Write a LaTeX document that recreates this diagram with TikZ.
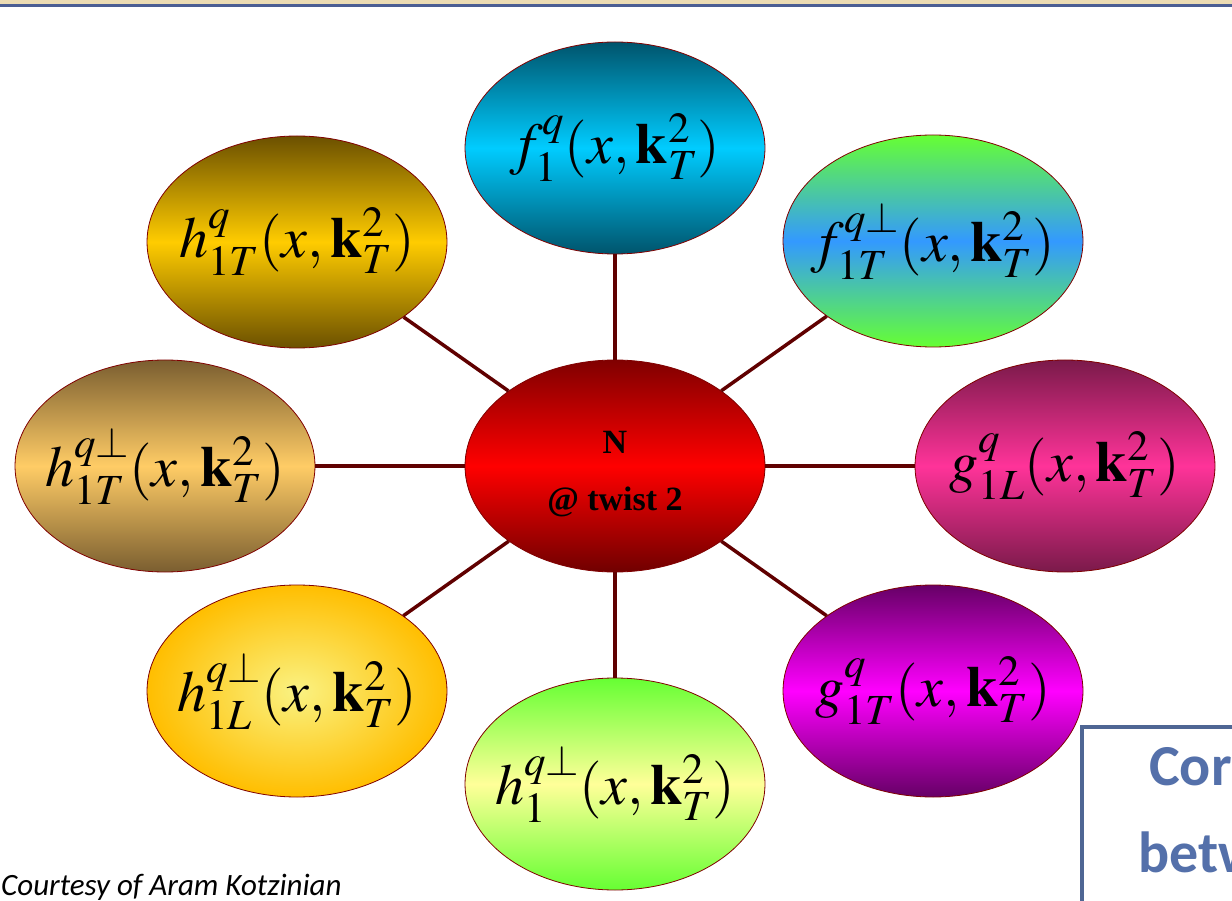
\documentclass[tikz,border=0pt]{standalone}
\usepackage{mathptmx}
\usepackage[no-math]{fontspec}
\newfontfamily\calibri{Carlito}
\newfontfamily\timesf{Liberation Serif}
\usetikzlibrary{shapes.geometric}
\definecolor{linkc}{RGB}{96,0,0}
\definecolor{rimc}{RGB}{128,0,0}
\definecolor{beige}{RGB}{236,220,180}
\definecolor{stripblue}{RGB}{75,94,148}
\definecolor{boxblue}{RGB}{79,102,148}
\definecolor{txtblue}{RGB}{84,112,170}
\begin{document}
\begin{tikzpicture}[x=1pt,y=-1pt,
  blob/.style={ellipse, draw=rimc, line width=0.8pt, minimum width=300pt,
    minimum height=212pt, inner sep=0pt, font=\fontsize{58}{62}\selectfont},
  link/.style={draw=linkc, line width=3.5pt},
  ctext/.style={font=\timesf\bfseries\fontsize{34}{38}\selectfont, inner sep=0pt},
  boxtext/.style={anchor=base west, inner sep=0pt, text=txtblue, font=\calibri\bfseries\fontsize{58}{62}\selectfont}]
\clip (0,0) rectangle (1232,901);
\fill[white] (0,0) rectangle (1232,901);
\fill[beige] (0,0) rectangle (1232,4);
\fill[stripblue] (0,4) rectangle (1232,7);
% nodes
\node[blob, top color={rgb,255:red,0;green,84;blue,108}, bottom color={rgb,255:red,0;green,84;blue,108}, middle color={rgb,255:red,0;green,204;blue,255}]
  (f1) at (615,148) {\makebox[0pt]{$f_1^q(x,\mathbf{k}_T^2)$}};
\node[blob, top color={rgb,255:red,107;green,80;blue,0}, bottom color={rgb,255:red,107;green,80;blue,0}, middle color={rgb,255:red,255;green,204;blue,0}]
  (h1T) at (297,242) {\makebox[0pt]{$h_{1T}^q(x,\mathbf{k}_T^2)$}};
\node[blob, top color={rgb,255:red,102;green,255;blue,51}, bottom color={rgb,255:red,102;green,255;blue,51}, middle color={rgb,255:red,51;green,153;blue,255}]
  (f1Tp) at (933,241) {\makebox[0pt]{$f_{1T}^{q\perp}(x,\mathbf{k}_T^2)$}};
\node[blob, top color={rgb,255:red,122;green,94;blue,48}, bottom color={rgb,255:red,122;green,94;blue,48}, middle color={rgb,255:red,255;green,204;blue,102}]
  (h1Tp) at (165,466) {\makebox[0pt]{$h_{1T}^{q\perp}(x,\mathbf{k}_T^2)$}};
\node[blob, top color={rgb,255:red,128;green,0;blue,0}, bottom color={rgb,255:red,112;green,0;blue,0}, middle color={rgb,255:red,255;green,0;blue,0}]
  (N) at (615,466) {};
\node[blob, top color={rgb,255:red,122;green,26;blue,74}, bottom color={rgb,255:red,122;green,26;blue,74}, middle color={rgb,255:red,255;green,51;blue,153}]
  (g1L) at (1065,466) {\makebox[0pt]{$g_{1L}^q(x,\mathbf{k}_T^2)$}};
\node[blob, shading=radial, inner color={rgb,255:red,250;green,242;blue,130}, outer color={rgb,255:red,255;green,190;blue,0}]
  (h1Lp) at (297,691) {\makebox[0pt]{$h_{1L}^{q\perp}(x,\mathbf{k}_T^2)$}};
\node[blob, top color={rgb,255:red,102;green,255;blue,51}, bottom color={rgb,255:red,102;green,255;blue,51}, middle color={rgb,255:red,255;green,255;blue,153}]
  (h1p) at (615,784) {\makebox[0pt]{$h_1^{q\perp}(x,\mathbf{k}_T^2)$}};
\node[blob, top color={rgb,255:red,102;green,0;blue,102}, bottom color={rgb,255:red,102;green,0;blue,102}, middle color={rgb,255:red,255;green,0;blue,255}]
  (g1T) at (933,691) {\makebox[0pt]{$g_{1T}^q(x,\mathbf{k}_T^2)$}};
% centre text
\node[ctext] (Nl) at (615,442) {N};
\node[ctext] (tw) at (615,502) {@ twist 2};
% connectors
\foreach \o in {f1,h1T,f1Tp,h1Tp,g1L,h1Lp,h1p,g1T}
  \draw[link] (N) -- (\o);
% courtesy
\node[anchor=base west, inner sep=0pt, font=\calibri\itshape\fontsize{31}{36}\selectfont] (ct) at (1,895) {Courtesy of Aram Kotzinian};
% box
\draw[draw=boxblue, line width=4.5pt, fill=white] (1082,727) rectangle (1260,930);
\node[boxtext] (c1) at (1149,785) {Correlations};
\node[boxtext] (c2) at (1138,872) {between};
\end{tikzpicture}
\end{document}
